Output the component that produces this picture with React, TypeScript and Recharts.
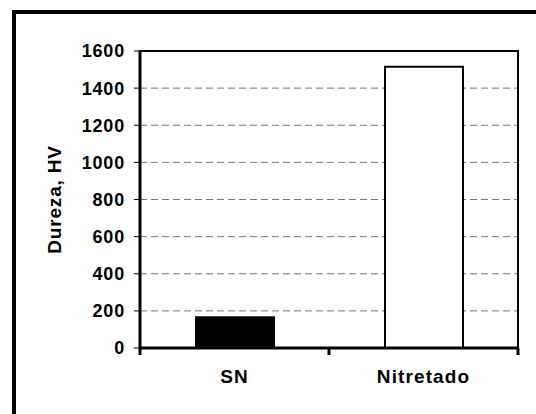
import {
  Bar,
  BarChart,
  CartesianGrid,
  Cell,
  ReferenceArea,
  XAxis,
  YAxis
} from 'recharts'

const categories = ['SN', 'Nitretado']
const hardness = [165, 1515]
const barFills = ['#000000', '#ffffff']
const yTicks = [0, 200, 400, 600, 800, 1000, 1200, 1400, 1600]

// bars sit in the middle of each category slot, ticks mark slot edges
const data = categories.map((name, i) => ({ name, pos: i + 0.5, hv: hardness[i] }))
const xTicks = [0, ...categories.flatMap((_, i) => [i + 0.5, i + 1])]

const font = { fontFamily: '"Liberation Sans", Arial, sans-serif', fontWeight: 700 }

function XTick(props: any) {
  const { x, y, payload } = props
  const v = payload.value as number
  if (Number.isInteger(v)) {
    return <line x1={x} x2={x} y1={y} y2={y + 7} stroke="#000" strokeWidth={3} />
  }
  return (
    <text x={x} y={y + 35} textAnchor="middle" fill="#000" fontSize={19} letterSpacing={1.1} style={font}>
      {categories[Math.floor(v)]}
    </text>
  )
}

export default function App() {
  return (
    <div style={{ position: 'absolute', left: 0, top: 0, width: 536, height: 414, background: '#fff', overflow: 'hidden' }}>
      <div
        style={{
          position: 'absolute',
          left: 12,
          top: 10,
          width: 560,
          height: 440,
          borderTop: '4px solid #000',
          borderLeft: '4px solid #000'
        }}
      />
      <div style={{ position: 'absolute', left: 0, top: 0 }}>
        <BarChart width={536} height={414} data={data} margin={{ top: 51, right: 18, bottom: 26, left: 0 }}>
          <CartesianGrid vertical={false} stroke="#777" strokeDasharray="7 4" />
          <ReferenceArea y1={0} y2={1600} fill="none" stroke="#000" strokeWidth={2} ifOverflow="visible" />
          <XAxis
            dataKey="pos"
            type="number"
            domain={[0, categories.length]}
            ticks={xTicks}
            interval={0}
            height={40}
            axisLine={{ stroke: '#000', strokeWidth: 3 }}
            tickLine={false}
            tickSize={0}
            tickMargin={0}
            tick={<XTick />}
          />
          <YAxis
            width={140}
            domain={[0, 1600]}
            ticks={yTicks}
            axisLine={{ stroke: '#000', strokeWidth: 3 }}
            tickLine={{ stroke: '#000', strokeWidth: 1 }}
            tickSize={6}
            tickMargin={9}
            tick={{ fill: '#000', fontSize: 18, letterSpacing: 0.8, ...font }}
            label={{
              value: 'Dureza, HV',
              angle: -90,
              position: 'center',
              dx: -16,
              style: { fill: '#000', fontSize: 19, letterSpacing: 0.8, ...font }
            }}
          />
          <Bar dataKey="hv" barSize={78} stroke="#000" strokeWidth={2} isAnimationActive={false}>
            {data.map((d, i) => (
              <Cell key={d.name} fill={barFills[i]} />
            ))}
          </Bar>
        </BarChart>
      </div>
    </div>
  )
}
